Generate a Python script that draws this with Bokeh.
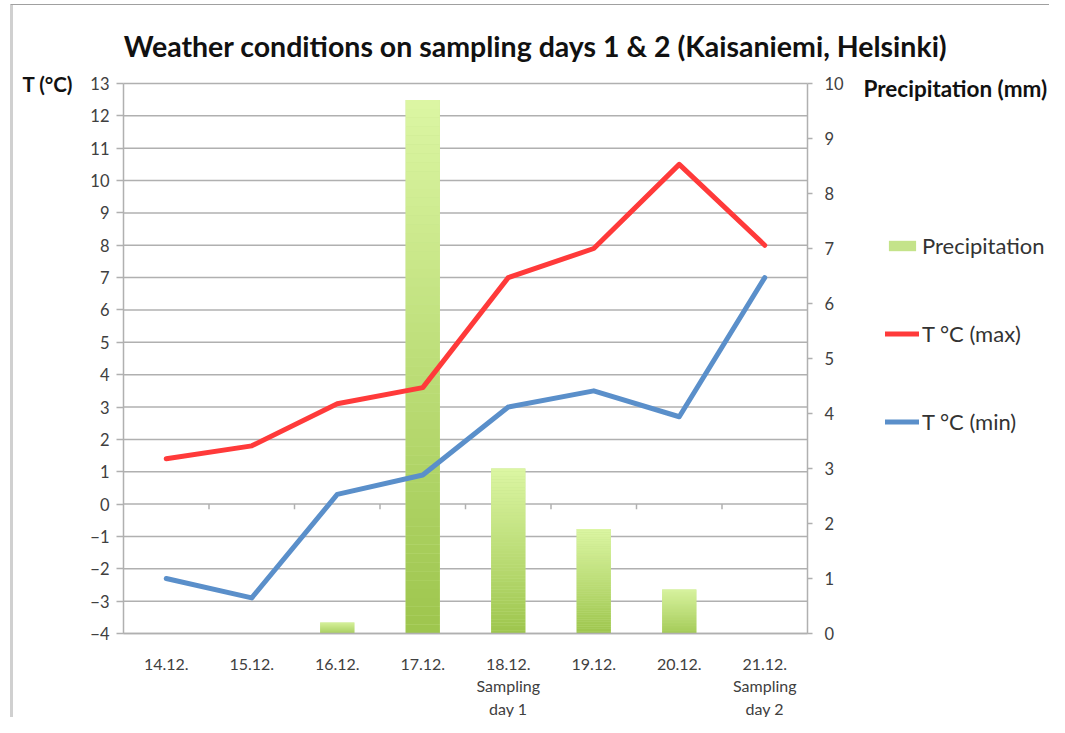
from bokeh.plotting import figure
from bokeh.models import (Range1d, LinearAxis, FixedTicker, Label, Legend, LegendItem)
from bokeh.embed import file_html
from bokeh.resources import INLINE

# ---------------- data ----------------
days = ["14.12.", "15.12.", "16.12.", "17.12.", "18.12.", "19.12.", "20.12.", "21.12."]
day_notes = ["", "", "", "", "Sampling\nday 1", "", "", "Sampling\nday 2"]
t_max = [1.4, 1.8, 3.1, 3.6, 7.0, 7.9, 10.5, 8.0]
t_min = [-2.3, -2.9, 0.3, 0.9, 3.0, 3.5, 2.7, 7.0]
precip = [0.0, 0.0, 0.2, 9.7, 3.0, 1.9, 0.8, 0.0]
t_ticks = list(range(-4, 14))
p_ticks = list(range(0, 11))

FONT = "Lato"
GRID = "#b0b0b0"
TXT = "#404040"

W, H = 1049, 717
# plot-area placement in canvas pixels
PL, PR, PT, PB = 123, 807, 83, 633

n = len(days)
xc = [i + 0.5 for i in range(n)]
tlo, thi = t_ticks[0], t_ticks[-1]
plo, phi = p_ticks[0], p_ticks[-1]

xs = (PR - PL) / n
ys = (PB - PT) / (thi - tlo)
ps = (PB - PT) / (phi - plo)
x_range = Range1d(-PL / xs, n + (W - PR) / xs)
y_range = Range1d(tlo - (H - PB) / ys, thi + PT / ys)

p = figure(width=W, height=H, output_backend="svg", toolbar_location=None,
           x_range=x_range, y_range=y_range,
           min_border=0, x_axis_type=None, y_axis_type=None)
p.extra_y_ranges = {"precip": Range1d(plo - (H - PB) / ps, phi + PT / ps)}
p.outline_line_color = None
p.background_fill_color = "white"
p.border_fill_color = "white"
p.xgrid.grid_line_color = None
p.ygrid.grid_line_color = None

# horizontal gridlines
p.segment(x0=[0] * len(t_ticks), y0=t_ticks, x1=[n] * len(t_ticks), y1=t_ticks,
          line_color=GRID, line_width=1.5)

# category tick marks on the zero line
bounds = list(range(1, n))
p.segment(x0=bounds, y0=[0] * len(bounds), x1=bounds, y1=[-0.16] * len(bounds),
          line_color=GRID, line_width=1.5)

# left axis
la = LinearAxis(ticker=FixedTicker(ticks=t_ticks), fixed_location=0, bounds=(tlo, thi))
la.axis_line_color = GRID
la.axis_line_width = 1.5
la.major_tick_line_color = GRID
la.major_tick_line_width = 1.5
la.major_tick_out = 7
la.major_tick_in = 0
la.minor_tick_line_color = None
la.major_label_text_font = FONT
la.major_label_text_font_size = "16.5px"
la.major_label_text_color = TXT
la.major_label_standoff = 7
p.add_layout(la, "left")

# right axis
ra = LinearAxis(y_range_name="precip", ticker=FixedTicker(ticks=p_ticks),
                fixed_location=n, bounds=(plo, phi))
ra.axis_line_color = GRID
ra.axis_line_width = 1.5
ra.major_tick_line_color = GRID
ra.major_tick_line_width = 1.5
ra.major_tick_out = 5
ra.major_tick_in = 0
ra.minor_tick_line_color = None
ra.major_label_text_font = FONT
ra.major_label_text_font_size = "16.5px"
ra.major_label_text_color = TXT
ra.major_label_standoff = 12
p.add_layout(ra, "right")

# bottom axis (category labels)
ba = LinearAxis(ticker=FixedTicker(ticks=xc), fixed_location=tlo, bounds=(0, n))
ba.major_label_overrides = {x: (d + ("\n" + s if s else "")) for x, d, s in zip(xc, days, day_notes)}
ba.axis_line_color = GRID
ba.axis_line_width = 1.5
ba.major_tick_line_color = None
ba.minor_tick_line_color = None
ba.major_label_text_font = FONT
ba.major_label_text_font_size = "16px"
ba.major_label_text_color = TXT
ba.major_label_text_line_height = 1.2
ba.major_label_standoff = 14
p.add_layout(ba, "below")

# precipitation bars with vertical gradient
bar_w = 0.4
base = p.vbar(x=xc, top=precip, width=bar_w, y_range_name="precip",
              fill_color="#c4e38a", line_color=None)
top_c = (220, 246, 163)
bot_c = (158, 198, 78)
N = 60
bx, bb, bt, bc = [], [], [], []
for x, v in zip(xc, precip):
    if v <= 0:
        continue
    for k in range(N):
        f = k / (N - 1)
        r = int(bot_c[0] + (top_c[0] - bot_c[0]) * f)
        g = int(bot_c[1] + (top_c[1] - bot_c[1]) * f)
        b = int(bot_c[2] + (top_c[2] - bot_c[2]) * f)
        bx.append(x)
        bb.append(v * k / N)
        bt.append(v * (k + 1) / N + 1e-6)
        bc.append("#%02x%02x%02x" % (r, g, b))
p.vbar(x=bx, bottom=bb, top=bt, width=bar_w, y_range_name="precip",
       fill_color=bc, line_color=None)

# temperature lines
rmax = p.line(xc, t_max, line_color="#ff3a3a", line_width=5, line_join="round", line_cap="round")
rmin = p.line(xc, t_min, line_color="#5a8fca", line_width=5, line_join="round", line_cap="round")

# legend
legend = Legend(items=[LegendItem(label="Precipitation", renderers=[base]),
                       LegendItem(label="T °C (max)", renderers=[rmax]),
                       LegendItem(label="T °C (min)", renderers=[rmin])],
                location=(885, H - 435))
legend.border_line_color = None
legend.background_fill_alpha = 0
legend.padding = 0
legend.margin = 0
legend.spacing = 61
legend.label_height = 24
legend.glyph_height = 13
legend.glyph_width = 34
legend.label_standoff = 3
legend.label_text_font = FONT
legend.label_text_font_size = "22px"
legend.label_text_color = "#333333"
p.add_layout(legend, "center")

def sx(px):
    return x_range.start + px / xs

def sy(py):
    return y_range.end - py / ys

# titles
p.add_layout(Label(x=sx(535), y=sy(45), text="Weather conditions on sampling days 1 & 2 (Kaisaniemi, Helsinki)",
                   text_font=FONT, text_font_style="bold", text_font_size="28.5px",
                   text_align="center", text_baseline="middle", text_color="#111111"))
p.add_layout(Label(x=sx(22), y=sy(83), text="T (°C)", text_font=FONT, text_font_style="bold",
                   text_font_size="20.5px", text_align="left", text_baseline="middle",
                   text_color="#111111"))
p.add_layout(Label(x=sx(863), y=sy(88), text="Precipitation (mm)", text_font=FONT,
                   text_font_style="bold", text_font_size="22.5px", text_align="left",
                   text_baseline="middle", text_color="#111111"))

# border lines of the chart box
p.segment(x0=[sx(11)], y0=[sy(4)], x1=[sx(11)], y1=[sy(H)], line_color="#d0d0d0", line_width=3)
p.segment(x0=[sx(10)], y0=[sy(4)], x1=[sx(W)], y1=[sy(4)], line_color="#a0a0a0", line_width=1)

open("out.html", "w").write(file_html(p, INLINE))
